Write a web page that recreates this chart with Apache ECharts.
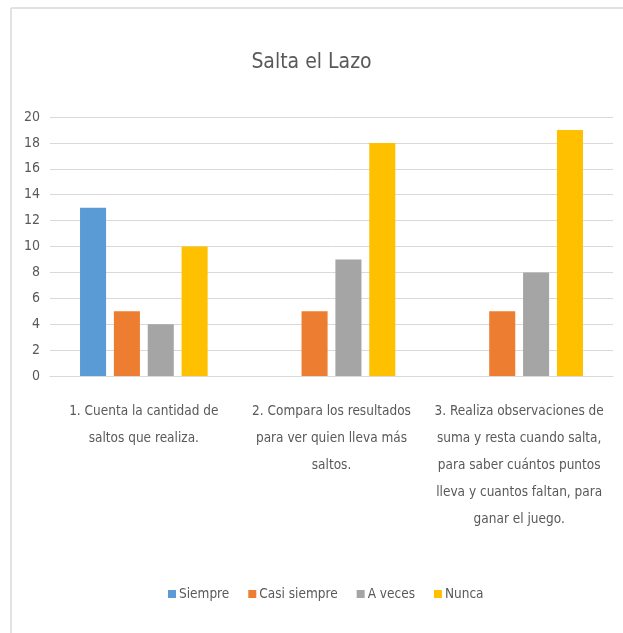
<!DOCTYPE html>
<html>
<head>
<meta charset="utf-8">
<script src="https://cdn.jsdelivr.net/npm/echarts@6/dist/echarts.min.js"></script>
<style>
  html, body { margin: 0; padding: 0; background: #fff; }
  #chart { width: 623px; height: 633px; }
</style>
</head>
<body>
<div id="chart"></div>
<script>
// Categories (the three observed behaviours) and answer frequencies
const categories = [
  '1. Cuenta la cantidad de\nsaltos que realiza.',
  '2. Compara los resultados\npara ver quien lleva más\nsaltos.',
  '3. Realiza observaciones de\nsuma y resta cuando salta,\npara saber cuántos puntos\nlleva y cuantos faltan, para\nganar el juego.'
];
const seriesNames = ['Siempre', 'Casi siempre', 'A veces', 'Nunca'];
const siempre = [13, 0, 0];
const casiSiempre = [5, 5, 5];
const aVeces = [4, 9, 8];
const nunca = [10, 18, 19];
const yTicks = { min: 0, max: 20, interval: 2 };

const colors = ['#5B9BD5', '#ED7D31', '#A5A5A5', '#FFC000'];
const values = [siempre, casiSiempre, aVeces, nunca];
const FONT = "'Liberation Sans Narrow', 'DejaVu Sans Condensed', sans-serif";

const chart = echarts.init(document.getElementById('chart'), null, { renderer: 'canvas' });

chart.setOption({
  animation: false,
  color: colors,
  textStyle: { fontFamily: FONT },
  title: {
    text: 'Salta el Lazo',
    left: 'center',
    top: 47,
    textStyle: { fontFamily: FONT, fontSize: 21, fontWeight: 'normal', color: '#595959' }
  },
  // chart-area frame: top and left edges
  graphic: [
    {
      type: 'line', silent: true,
      shape: { x1: 11, y1: 8, x2: 623, y2: 8 },
      style: { stroke: '#d9d9d9', lineWidth: 1.5 }
    },
    {
      type: 'line', silent: true,
      shape: { x1: 11, y1: 8, x2: 11, y2: 633 },
      style: { stroke: '#d9d9d9', lineWidth: 1.5 }
    }
  ],
  legend: {
    bottom: 27,
    left: 163,
    itemWidth: 8,
    itemHeight: 8,
    itemGap: 19,
    icon: 'rect',
    textStyle: { fontFamily: FONT, fontSize: 13.5, color: '#595959', padding: [0, 0, 0, -2] },
    data: seriesNames
  },
  grid: { left: 50, right: 10, top: 117, bottom: 257, containLabel: false },
  xAxis: {
    type: 'category',
    data: categories,
    axisLine: { lineStyle: { color: '#d9d9d9' } },
    axisTick: { show: false },
    axisLabel: {
      interval: 0,
      margin: 22,
      fontFamily: FONT,
      fontSize: 13.5,
      lineHeight: 27,
      color: '#595959',
      align: 'center'
    }
  },
  yAxis: {
    type: 'value',
    min: yTicks.min,
    max: yTicks.max,
    interval: yTicks.interval,
    axisLine: { show: false },
    axisTick: { show: false },
    splitLine: { lineStyle: { color: '#d9d9d9' } },
    axisLabel: { fontFamily: FONT, fontSize: 14, color: '#595959', margin: 10 }
  },
  series: seriesNames.map((name, i) => ({
    name,
    type: 'bar',
    data: values[i],
    barGap: '30%',
    barCategoryGap: '32%'
  }))
});
</script>
</body>
</html>
